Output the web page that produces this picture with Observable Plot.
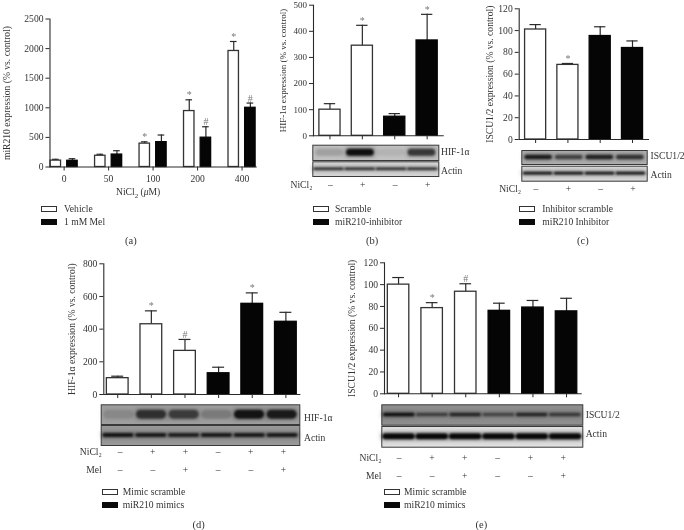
<!DOCTYPE html>
<html><head><meta charset="utf-8">
<script src="https://cdn.jsdelivr.net/npm/d3@7"></script>
<script src="https://cdn.jsdelivr.net/npm/@observablehq/plot@0.6"></script>
<style>
html,body{margin:0;padding:0;background:#fff}
#fig{position:relative;width:684px;height:530px;overflow:hidden;background:#fff;font-family:"Liberation Serif",serif;color:#333;filter:blur(.35px)}
#fig svg{position:absolute;left:0;top:0}
#fig .t{position:absolute;white-space:nowrap;font-size:9.6px;line-height:1;transform:translateY(-50%)}
#fig .s{position:absolute;box-sizing:border-box;width:16px;height:6px;border:1px solid #333;background:#fff}
#fig .s.k{background:#0a0a0a;border-color:#0a0a0a}
</style></head><body><div id="fig"></div>
<script>
// (a) miR210
const doses=["0","50","100","200","400"];
const aVehicle=[108,190,395,945,1960];
const aVehicleErr=[130,215,425,1135,2120];
const aVehicleMark=["","","*","*","*"];
const aMel=[105,210,420,495,1000];
const aMelErr=[140,275,540,680,1080];
const aMelMark=["","","","#","#"];
// (b) HIF-1a inhibitor
const bValues=[100,345,73,365];
const bErr=[123,423,85,465];
const bMarks=["","*","","*"];
const bNi=["–","+","–","+"];
const bTarget=[.14,.95,.06,.68];
const bActin=[.8,.8,.8,.8];
// (c) ISCU1/2 inhibitor
const cValues=[101,68.5,95,84];
const cErr=[105.5,69.8,103.5,90.5];
const cMarks=["","*","",""];
const cNi=["–","+","–","+"];
const cTarget=[.85,.6,.8,.7];
const cActin=[.95,.95,.95,.95];
// (d) HIF-1a mimics
const dValues=[100,430,267,130,555,445];
const dErr=[112,512,337,167,622,503];
const dMarks=["","*","#","","*",""];
const dNi=["–","+","+","–","+","+"];
const dMel=["–","–","+","–","–","+"];
const dTarget=[.12,.68,.6,.2,.9,.85];
const dActin=[.9,.85,.8,.85,.85,.85];
// (e) ISCU1/2 mimics
const eValues=[100,78.5,93.5,76,79,75.5];
const eErr=[106.5,83.5,100.8,83,85.5,87.5];
const eMarks=["","*","#","","",""];
const eNi=["–","+","+","–","+","+"];
const eMel=["–","–","+","–","–","+"];
const eTarget=[.95,.55,.75,.5,.75,.6];
const eActin=[1,1,1,1,1,1];

const fig=document.getElementById("fig");
const base={width:684,height:530,style:{background:"transparent",fontFamily:"'Liberation Serif',serif",fontSize:"9.6px",color:"#333",overflow:"visible"}};
const ink="#2a2a2a";
const plain=d3.format("d");
function put(p){fig.appendChild(p)}
function text(html,x,y,size){const d=document.createElement("div");d.className="t";d.innerHTML=html;d.style.left=x+"px";d.style.top=y+"px";if(size)d.style.fontSize=size+"px";fig.appendChild(d)}
function swatch(x,y,black){const d=document.createElement("div");d.className="s"+(black?" k":"");d.style.left=x+"px";d.style.top=y+"px";fig.appendChild(d)}
function legend(x,y1,y2,names,dx){swatch(x,y1-3,false);text(names[0],x+dx,y1);swatch(x,y2-3,true);text(names[1],x+dx,y2)}
const blurred=r=>(i,s,v,d,c,next)=>{const g=next(i,s,v,d,c);g.style.filter=`blur(${r}px)`;return g};

function rows(vals,errs,marks,nWhite){return vals.map((v,i)=>({lane:String(i),v,err:errs[i],mark:marks[i],black:i>=nWhite}))}

function bars(cfg){
  const data=rows(cfg.values,cfg.errs,cfg.marks,cfg.nWhite);
  const lanes=data.map(d=>d.lane);
  put(Plot.plot({...base,
    style:{...base.style,fontSize:(cfg.fs||9.6)+"px"},
    marginLeft:cfg.L,marginRight:684-cfg.R,marginTop:cfg.T,marginBottom:530-cfg.B,
    x:{domain:lanes,paddingInner:cfg.pi,paddingOuter:cfg.po,align:cfg.al,round:false,axis:null},
    y:{domain:cfg.dom,axis:null},
    marks:[
      Plot.ruleX(data,{x:"lane",y1:"v",y2:"err",stroke:ink,strokeWidth:1.2}),
      Plot.tickY(data,{x:"lane",y:"err",stroke:ink,strokeWidth:1.2,insetLeft:cfg.cap,insetRight:cfg.cap}),
      Plot.barY(data,{x:"lane",y:"v",fill:d=>d.black?"#050505":"#fff",stroke:d=>d.black?"#050505":"#333",strokeWidth:1.3,insetLeft:.6,insetRight:.6}),
      Plot.text(data.filter(d=>d.mark),{x:"lane",y:"err",text:"mark",fill:"#777",fontSize:10,lineAnchor:"bottom",dy:-1.5}),
      Plot.frame({anchor:"bottom",stroke:ink,strokeWidth:1.1}),
      Plot.axisX({anchor:"bottom",domain:lanes,tickSize:4,tickFormat:()=>"",stroke:ink,label:null}),
      Plot.axisY({anchor:"left",ticks:cfg.ticks,tickFormat:plain,tickSize:4,tickPadding:2.5,stroke:ink,label:null}),
      Plot.axisY({anchor:"left",ticks:[],tickSize:0,label:cfg.label,labelAnchor:"center",labelArrow:"none",labelOffset:cfg.lo,dy:cfg.ldy||0}),
      Plot.frame({anchor:"left",stroke:ink,strokeWidth:1.1})
    ]}));
}

function blot(cfg){
  const data=cfg.values.map((a,i)=>({lane:String(i),a}));
  const lanes=data.map(d=>d.lane);
  const H=cfg.y2-cfg.y1, pad=(H/cfg.h-1)/2;
  put(Plot.plot({...base,
    marginLeft:cfg.x1,marginRight:684-cfg.x2,marginTop:cfg.y1,marginBottom:530-cfg.y2,
    x:{domain:lanes,padding:cfg.gap??.1,round:false,axis:null},
    y:{domain:["band"],paddingInner:0,paddingOuter:pad,round:false,axis:null},
    opacity:{domain:[0,1],range:[0,1]},
    marks:[
      Plot.frame({fill:cfg.bg,stroke:"#3a3a3a",strokeWidth:1}),
      Plot.cell(data,{x:"lane",y:()=>"band",fill:"#222",fillOpacity:d=>d.a*.35,inset:-1.5,rx:3,render:blurred(2)}),
      Plot.cell(data,{x:"lane",y:()=>"band",fill:"#080808",fillOpacity:"a",rx:cfg.h/2,render:blurred(.9)})
    ]}));
}

function signs(cfg){
  const data=[];
  cfg.rows.forEach(([name,vals])=>vals.forEach((s,i)=>data.push({lane:String(i),row:name,s})));
  const lanes=cfg.rows[0][1].map((_,i)=>String(i));
  put(Plot.plot({...base,
    marginLeft:cfg.L,marginRight:684-cfg.R,marginTop:cfg.y1,marginBottom:530-cfg.y2,
    x:{domain:lanes,paddingInner:cfg.pi,paddingOuter:cfg.po,align:cfg.al,round:false,axis:null},
    y:{type:"band",domain:cfg.rows.map(r=>r[0]),padding:0,round:false,axis:null},
    marks:[
      Plot.text(data,{x:"lane",y:"row",text:"s",fontSize:9.6,fill:"#333"}),
      Plot.axisY({anchor:"left",tickSize:0,tickPadding:cfg.tp,label:null,fill:"#333",stroke:"none"})
    ]}));
}

/* panel a */
const aData=doses.flatMap((d,i)=>[
  {dose:d,series:"Vehicle",v:aVehicle[i],err:aVehicleErr[i],mark:aVehicleMark[i]},
  {dose:d,series:"1 mM Mel",v:aMel[i],err:aMelErr[i],mark:aMelMark[i]}]);
put(Plot.plot({...base,
  marginLeft:41,marginRight:684-257,marginTop:18.5,marginBottom:530-166.5,
  fx:{domain:doses,paddingInner:.364,paddingOuter:.11,align:.867,round:false,label:null,axis:null},
  x:{domain:["Vehicle","1 mM Mel"],paddingInner:.3,paddingOuter:0,round:false,axis:null},
  y:{domain:[0,2500],axis:null},
  marks:[
    Plot.ruleX(aData,{fx:"dose",x:"series",y1:"v",y2:"err",stroke:ink,strokeWidth:1.2}),
    Plot.tickY(aData,{fx:"dose",x:"series",y:"err",stroke:ink,strokeWidth:1.2,insetLeft:2.5,insetRight:2.5}),
    Plot.barY(aData,{fx:"dose",x:"series",y:"v",fill:d=>d.series==="Vehicle"?"#fff":"#050505",stroke:d=>d.series==="Vehicle"?"#333":"#050505",strokeWidth:1.3,insetLeft:.6,insetRight:.6}),
    Plot.text(aData.filter(d=>d.mark),{fx:"dose",x:"series",y:"err",text:"mark",fill:"#777",fontSize:10,lineAnchor:"bottom",dy:-1.5}),
    Plot.frame({anchor:"bottom",stroke:ink,strokeWidth:1.1,facet:"super"}),
    Plot.frame({anchor:"left",stroke:ink,strokeWidth:1.1,facet:"super"}),
    Plot.axisFx({anchor:"bottom",tickSize:4,tickPadding:4,label:null,stroke:ink,fill:"#333"}),
    Plot.axisY({anchor:"left",ticks:[0,500,1000,1500,2000,2500],tickFormat:plain,tickSize:4,tickPadding:2.5,stroke:ink,label:null}),
    Plot.axisY({anchor:"left",ticks:[],tickSize:0,label:"miR210 expression (% vs. control)",labelAnchor:"center",labelArrow:"none",labelOffset:47,dy:-2.5})
  ]}));
text("NiCl<sub style='font-size:7px;line-height:0'>2</sub> (<i>μ</i>M)",116,192);
legend(41,209,222,["Vehicle","1 mM Mel"],23);
text("(a)",125,241,10.5);

/* panel b */
const bX={L:313,R:442.7,pi:.31,po:.157,al:.52};
bars({...bX,T:4.7,B:135.3,dom:[0,500],values:bValues,errs:bErr,marks:bMarks,nWhite:2,cap:5.5,ticks:[0,100,200,300,400,500],label:"HIF-1α expression (% vs. control)",lo:34,ldy:-4.5,fs:9});
blot({x1:312.3,x2:438.3,y1:144.7,y2:160,values:bTarget,bg:"#c2c2c2",h:7});
blot({x1:312.3,x2:438.3,y1:161.3,y2:176,values:bActin,bg:"#d6d6d6",h:2.5,gap:.03});
text("HIF-1α",441,152);text("Actin",441,171);
signs({...bX,y1:176,y2:192,rows:[["NiCl₂",bNi]],tp:1});
legend(313,209,222,["Scramble","miR210-inhibitor"],22);
text("(b)",366,241,10.5);

/* panel c */
const cX={L:518.7,R:648,pi:.31,po:.157,al:.52};
bars({...cX,T:8.3,B:139,dom:[0,120],values:cValues,errs:cErr,marks:cMarks,nWhite:2,cap:5.5,ticks:[0,20,40,60,80,100,120],label:"ISCU1/2 expression (% vs. control)",lo:33.5,ldy:-1.5});
blot({x1:521.3,x2:646.7,y1:150,y2:164,values:cTarget,bg:"#b0b0b0",h:4.5});
blot({x1:521.3,x2:646.7,y1:165.7,y2:180.7,values:cActin,bg:"#d8d8d8",h:2.8,gap:.05});
text("ISCU1/2",650.5,156);text("Actin",650.5,175);
signs({...cX,y1:180,y2:196,rows:[["NiCl₂",cNi]],tp:-2});
legend(519.3,209,222,["Inhibitor scramble","miR210 Inhibitor"],23);
text("(c)",577,241,10.5);

/* panel d */
const dX={L:103.3,R:299.3,pi:.318,po:.073,al:.5};
bars({...dX,T:263.3,B:394,dom:[0,800],values:dValues,errs:dErr,marks:dMarks,nWhite:3,cap:5.5,ticks:[0,200,400,600,800],label:"HIF-1α expression (% vs. control)",lo:35.5});
blot({x1:100.7,x2:299.3,y1:404.3,y2:424,values:dTarget,bg:"#a0a0a0",h:9,gap:.08});
blot({x1:100.7,x2:299.3,y1:425,y2:445,values:dActin,bg:"#989898",h:4,gap:.05});
text("HIF-1α",304,417.5);text("Actin",304,437.5);
signs({...dX,y1:443,y2:478,rows:[["NiCl₂",dNi],["Mel",dMel]],tp:2});
legend(101.7,491.5,505,["Mimic scramble","miR210 mimics"],21);
text("(d)",192.5,525,10.5);

/* panel e */
const eX={L:384,R:580.7,pi:.325,po:.09,al:.45};
bars({...eX,T:262.3,B:393.3,dom:[0,120],values:eValues,errs:eErr,marks:eMarks,nWhite:3,cap:5.5,ticks:[0,20,40,60,80,100,120],label:"ISCU1/2 expression (% vs. control)",lo:36.5});
blot({x1:381.3,x2:582.3,y1:404.3,y2:424.7,values:eTarget,bg:"#8e8e8e",h:3.5,gap:.05});
blot({x1:381.3,x2:582.3,y1:426,y2:446.7,values:eActin,bg:"#e0e0e0",h:6,gap:.03});
text("ISCU1/2",585.7,415);text("Actin",585.7,433.5);
signs({...eX,y1:448,y2:484,rows:[["NiCl₂",eNi],["Mel",eMel]],tp:3});
legend(384,491.5,505,["Mimic scramble","miR210 mimics"],20);
text("(e)",475.5,525,10.5);
</script></body></html>
